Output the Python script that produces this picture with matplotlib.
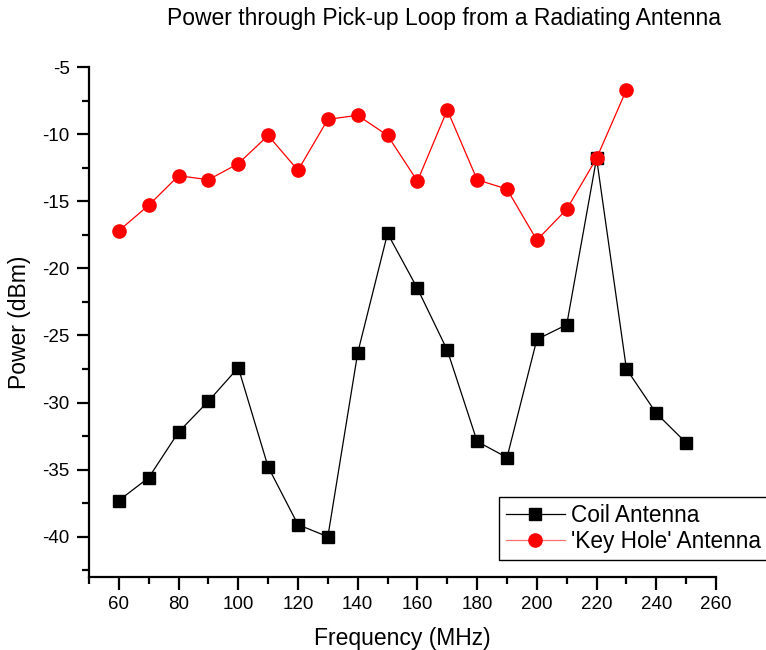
import numpy as np
import matplotlib
matplotlib.use('Agg')
import matplotlib.pyplot as plt
from matplotlib.ticker import MultipleLocator

plt.rcParams['font.family'] = ['Liberation Sans', 'DejaVu Sans']
plt.rcParams['axes.unicode_minus'] = False

# frequencia (MHz) e potencia medida (dBm)
freq_coil = [60, 70, 80, 90, 100, 110, 120, 130, 140, 150,
             160, 170, 180, 190, 200, 210, 220, 230, 240, 250]
pot_coil = [-37.3, -35.6, -32.2, -29.9, -27.4, -34.8, -39.1, -40.0, -26.3, -17.4,
            -21.5, -26.1, -32.9, -34.1, -25.3, -24.2, -11.8, -27.5, -30.8, -33.0]

freq_key = [60, 70, 80, 90, 100, 110, 120, 130, 140, 150,
            160, 170, 180, 190, 200, 210, 220, 230]
pot_key = [-17.2, -15.3, -13.1, -13.4, -12.2, -10.1, -12.7, -8.9, -8.6, -10.1,
           -13.5, -8.2, -13.4, -14.1, -17.9, -15.6, -11.8, -6.7]

fig = plt.figure(figsize=(7.66, 6.5), dpi=100)
ax = fig.add_axes([89/766, 1-577/650, (716-89)/766, (577-67)/650])

ax.plot(freq_coil, pot_coil, color='black', lw=0.9, marker='s', ms=8,
        mec='black', mfc='black', label='Coil Antenna')
ax.plot(freq_key, pot_key, color='red', lw=0.9, marker='o', ms=9.5,
        mec='red', mfc='red', label="'Key Hole' Antenna")

ax.set_xlim(50, 260)
ax.set_ylim(-43, -5)
ax.xaxis.set_major_locator(MultipleLocator(20))
ax.xaxis.set_minor_locator(MultipleLocator(10))
ax.yaxis.set_major_locator(MultipleLocator(5))
ax.yaxis.set_minor_locator(MultipleLocator(2.5))
ax.set_xticks(np.arange(60, 261, 20))

for s in ['top', 'right']:
    ax.spines[s].set_visible(False)
for s in ['left', 'bottom']:
    ax.spines[s].set_linewidth(1.6)
ax.tick_params(which='major', direction='out', length=9, width=1.6,
               labelsize=13.5, pad=5)
ax.tick_params(which='minor', direction='out', length=5, width=1.6)

ax.set_xlabel('Frequency (MHz)', fontsize=16.5, labelpad=10)
ax.set_ylabel('Power (dBm)', fontsize=16.5, labelpad=8)

fig.text(0.58, 1-18/650, 'Power through Pick-up Loop from a Radiating Antenna',
         ha='center', va='center', fontsize=16.5)

leg = ax.legend(loc='upper left', bbox_to_anchor=(499/766, 1-497/650),
                bbox_transform=fig.transFigure, fontsize=16.3, frameon=True,
                fancybox=False, edgecolor='black', framealpha=1,
                handlelength=2.6, borderpad=0.3, labelspacing=0.15,
                handletextpad=0.3, borderaxespad=0)
leg.get_frame().set_linewidth(1.0)
leg.get_lines()[1].set_color('#ff7070')
leg.get_lines()[1].set_markeredgecolor('red')
leg.get_lines()[1].set_markerfacecolor('red')

fig.savefig('out.png', dpi=100)
